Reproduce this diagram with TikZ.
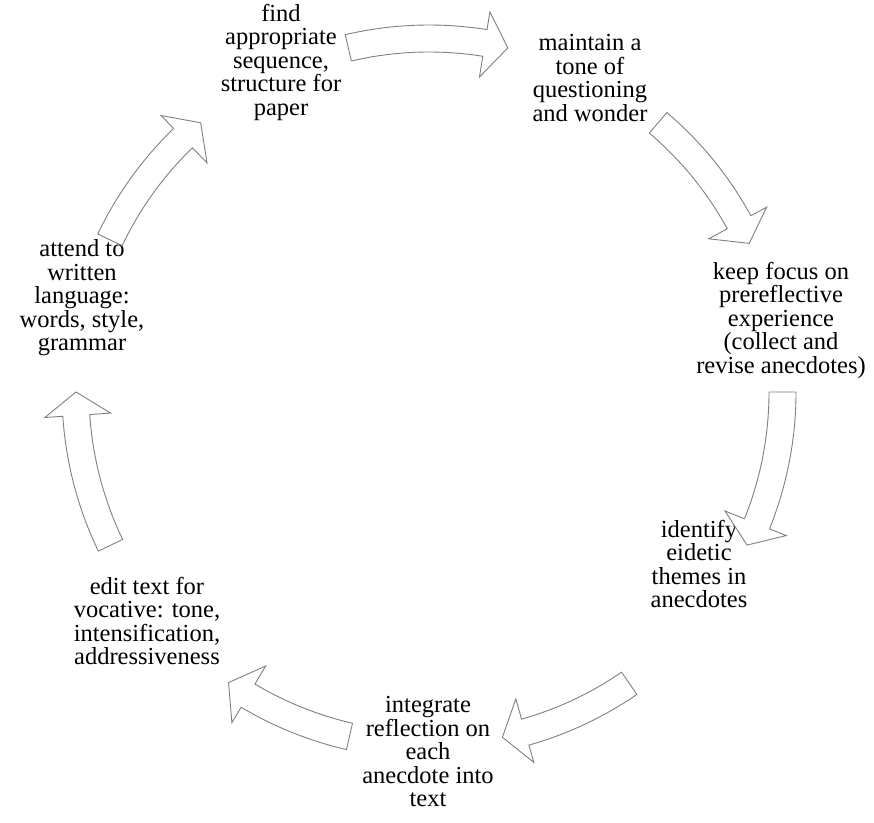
\documentclass[tikz,border=0pt]{standalone}
\usepackage{fontspec}
\setmainfont{Liberation Serif}
\usetikzlibrary{calc}
\begin{document}
\begin{tikzpicture}[x=1pt,y=1pt,
  cyclearrow/.style={draw=black!50, fill=white, line width=0.9pt, line join=miter},
  stage/.style={align=center, font=\fontsize{24.5}{23.5}\selectfont, inner sep=0pt}]
\useasboundingbox (0,0) rectangle (874,822);
\coordinate (C) at (429,430);

% stages of the writing cycle
\node[stage] (find) at (281,760) {find\\appropriate\\sequence,\\structure for\\paper};
\node[stage] (tone) at (590,744) {maintain a\\tone of\\questioning\\and wonder};
\node[stage] (focus) at (781,502) {keep focus on\\prereflective\\experience\\(collect and\\revise anecdotes)};
\node[stage] (themes) at (699,258) {identify\\eidetic\\themes in\\anecdotes};
\node[stage] (integrate) at (428,70) {integrate\\reflection on\\each\\anecdote into\\text};
\node[stage] (edit) at (147,201) {edit text for\\vocative: tone,\\intensification,\\addressiveness};
\node[stage] (attend) at (82,524) {attend to\\written\\language:\\words, style,\\grammar};

% curved block arrows around the centre C, running clockwise;
% each pair gives the bearing (clockwise from the top) of tail and tip
\foreach \ta/\tb in {-13.2/12.9, 40.4/65.1, 90/115.7, 145.5/168, 193/214.6, 244.3/270, 295.5/319.7}{
  \pgfmathsetmacro\s{90-\ta}
  \pgfmathsetmacro\e{90-\tb}
  \pgfmathsetmacro\h{\e+3.8}
  \draw[cyclearrow] ($(C)+(\s:367)$) arc[start angle=\s,end angle=\h,radius=367]
    -- ($(C)+(\h:385)$) -- ($(C)+(\e:353)$) -- ($(C)+(\h:319)$)
    -- ($(C)+(\h:340)$) arc[start angle=\h,end angle=\s,radius=340] -- cycle;
}
\end{tikzpicture}
\end{document}
